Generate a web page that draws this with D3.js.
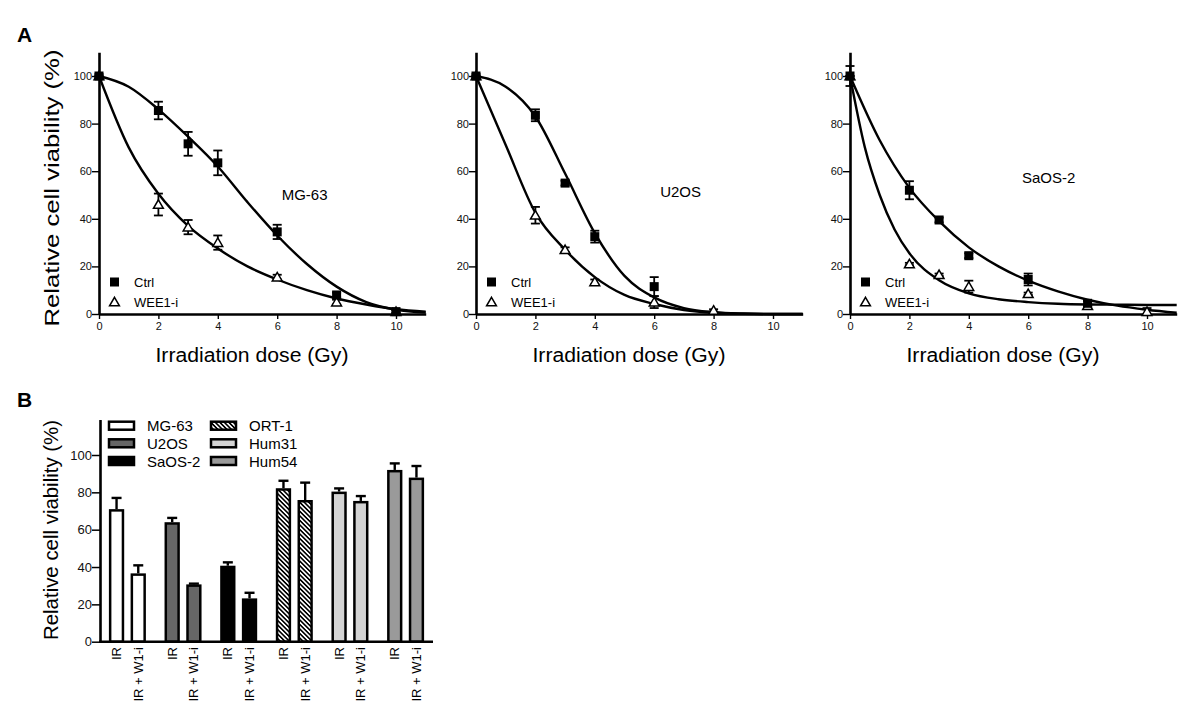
<!DOCTYPE html>
<html><head><meta charset="utf-8">
<script src="https://cdn.jsdelivr.net/npm/d3@7"></script>
<style>
body{margin:0;background:#fff;}
svg{display:block;font-family:"Liberation Sans",Arial,sans-serif;}
</style></head>
<body>
<svg id="c" width="1200" height="719"></svg>
<script>
// ---------- Panel A data ----------
const xTicksA = [0, 2, 4, 6, 8, 10];
const yTicksA = [0, 20, 40, 60, 80, 100];
const fitX = [0, 1, 2, 3, 4, 5, 6, 7, 8, 9, 10, 11];

// MG-63
const mgCtrlDose = [0, 2, 3, 4, 6, 8, 10];
const mgCtrl     = [100, 85.5, 71.5, 63.5, 34.5, 8, 1];
const mgCtrlErr  = [0.8, 3.7, 5, 5.2, 3, 1, 0.5];
const mgWeeDose  = [0, 2, 3, 4, 6, 8, 10];
const mgWee      = [100, 46, 36.5, 30, 15.5, 5, 1];
const mgWeeErr   = [0, 4.6, 3, 3, 1, 1, 0.5];
const mgCtrlFit  = [100, 95.5, 86, 74.5, 62, 47, 33, 21, 11.5, 5, 1.8, 0.6];
const mgWeeFit   = [100, 70, 50.5, 37, 27.5, 20, 14.5, 10, 6.5, 4, 2, 1];

// U2OS
const u2CtrlDose = [0, 2, 3, 4, 6];
const u2Ctrl     = [100, 83.5, 55, 32.5, 11.5];
const u2CtrlErr  = [0.8, 2.5, 1, 2.5, 4];
const u2WeeDose  = [0, 2, 3, 4, 6, 8];
const u2Wee      = [100, 41.5, 27, 13.5, 5, 1.5];
const u2WeeErr   = [0, 3.5, 1, 1, 2.5, 0.5];
const u2CtrlFit  = [100, 95.5, 83, 59, 34, 16, 7, 2.5, 0.8, 0.2, 0, 0];
const u2WeeFit   = [100, 71, 42.5, 27, 15.5, 8, 4.2, 1.7, 0.5, 0.1, 0, 0];

// SaOS-2
const saCtrlDose = [0, 2, 3, 4, 6, 8];
const saCtrl     = [100, 52, 39.5, 24.5, 14.5, 4.5];
const saCtrlErr  = [4.2, 3.8, 1, 1, 2.5, 1];
const saWeeDose  = [0, 2, 3, 4, 6, 8, 10];
const saWee      = [100, 21, 16.5, 11.5, 8.5, 3.5, 1];
const saWeeErr   = [0, 0.5, 0.5, 2.5, 0.5, 0.5, 1.5];
const saCtrlFit  = [100, 73, 53, 39, 28, 20, 14, 9.5, 6, 3.5, 1.8, 0.5];
const saWeeFitX  = [0, 0.5, 1, 1.5, 2, 3, 4, 5, 6, 7, 8, 9, 10, 11];
const saWeeFit   = [100, 70, 50, 35.5, 25.5, 14.2, 8.7, 6.2, 5, 4.3, 4, 3.9, 3.8, 3.8];

const panelNames = ["MG-63", "U2OS", "SaOS-2"];
const legendLabels = ["Ctrl", "WEE1-i"];

// ---------- Panel B data ----------
const bGroups = ["MG-63", "U2OS", "SaOS-2", "ORT-1", "Hum31", "Hum54"];
const bConds  = ["IR", "IR + W1-i"];
const bIR     = [71, 64, 40.7, 82.2, 80.4, 92];
const bIRErr  = [6, 2.3, 1.8, 4, 1.7, 3.5];
const bW1     = [36.6, 30.7, 23.2, 75.9, 75.4, 87.9];
const bW1Err  = [4.3, 0.4, 3, 9.3, 2.6, 6.2];
const yTicksB = [0, 20, 40, 60, 80, 100];

// ---------- drawing ----------
const svg = d3.select("#c");
const fills = ["#ffffff", "#666666", "#000000", "url(#hatch)", "#d4d4d4", "#9a9a9a"];

const defs = svg.append("defs");
const pat = defs.append("pattern").attr("id", "hatch")
  .attr("patternUnits", "userSpaceOnUse").attr("width", 3.2).attr("height", 3.2)
  .attr("patternTransform", "rotate(-45)");
pat.append("rect").attr("width", 3.2).attr("height", 3.2).attr("fill", "#fff");
pat.append("line").attr("x1", 0.8).attr("y1", 0).attr("x2", 0.8).attr("y2", 3.2)
  .attr("stroke", "#000").attr("stroke-width", 1.6);

// Panel labels
svg.append("text").attr("x", 17).attr("y", 42).attr("font-size", 21).attr("font-weight", "bold").text("A");
svg.append("text").attr("x", 17).attr("y", 407).attr("font-size", 21).attr("font-weight", "bold").text("B");

const panels = [
  {x0: 99, name: panelNames[0], lab: [6.15, 48],
   ctrl: [mgCtrlDose, mgCtrl, mgCtrlErr], wee: [mgWeeDose, mgWee, mgWeeErr],
   fits: [[fitX, mgCtrlFit], [fitX, mgWeeFit]], yTitle: true},
  {x0: 476, name: panelNames[1], lab: [6.2, 49],
   ctrl: [u2CtrlDose, u2Ctrl, u2CtrlErr], wee: [u2WeeDose, u2Wee, u2WeeErr],
   fits: [[fitX, u2CtrlFit], [fitX, u2WeeFit]], yTitle: false},
  {x0: 850, name: panelNames[2], lab: [5.79, 55],
   ctrl: [saCtrlDose, saCtrl, saCtrlErr], wee: [saWeeDose, saWee, saWeeErr],
   fits: [[fitX, saCtrlFit], [saWeeFitX, saWeeFit]], yTitle: false}
];

panels.forEach(p => {
  const x = d3.scaleLinear().domain([0, 11]).range([p.x0, p.x0 + 11 * 29.7]);
  const y = d3.scaleLinear().domain([0, 110]).range([314, 314 - 110 * 2.38]);
  const g = svg.append("g");

  // axes
  const ya = g.append("g").attr("transform", `translate(${p.x0},0)`)
    .call(d3.axisLeft(y).tickValues(yTicksA).tickSize(7).tickSizeOuter(0).tickPadding(0));
  const xa = g.append("g").attr("transform", "translate(0,314)")
    .call(d3.axisBottom(x).tickValues(xTicksA).tickSize(5).tickSizeOuter(0).tickPadding(3));
  [ya, xa].forEach(a => {
    a.select(".domain").attr("stroke-width", 2.6);
    a.selectAll(".tick line").attr("stroke-width", 1.4);
    a.selectAll("text").attr("font-size", 11).attr("font-family", "Liberation Sans, Arial, sans-serif").attr("fill", "#111");
  });

  // titles
  g.append("text").attr("x", x(5.15)).attr("y", 362).attr("text-anchor", "middle")
    .attr("font-size", 20).attr("textLength", 193).attr("lengthAdjust", "spacingAndGlyphs")
    .text("Irradiation dose (Gy)");
  if (p.yTitle) {
    g.append("text").attr("transform", `translate(59,${188}) rotate(-90)`)
      .attr("text-anchor", "middle").attr("font-size", 20)
      .attr("textLength", 277).attr("lengthAdjust", "spacingAndGlyphs")
      .text("Relative cell viability (%)");
  }
  g.append("text").attr("x", x(p.lab[0])).attr("y", y(p.lab[1])).attr("font-size", 15).text(p.name);

  // fit curves
  const line = d3.line().x(d => x(d[0])).y(d => y(d[1])).curve(d3.curveMonotoneX);
  p.fits.forEach(f => {
    g.append("path").datum(d3.zip(f[0], f[1])).attr("d", line)
      .attr("fill", "none").attr("stroke", "#000").attr("stroke-width", 2.4);
  });

  // error bars
  [p.wee, p.ctrl].forEach(s => {
    const data = d3.zip(s[0], s[1], s[2]);
    data.forEach(d => {
      const cx = x(d[0]), t = y(d[1] + d[2]), b = y(d[1] - d[2]);
      g.append("line").attr("x1", cx).attr("x2", cx).attr("y1", t).attr("y2", b).attr("stroke", "#000").attr("stroke-width", 1.8);
      g.append("line").attr("x1", cx - 4.5).attr("x2", cx + 4.5).attr("y1", t).attr("y2", t).attr("stroke", "#000").attr("stroke-width", 1.8);
      g.append("line").attr("x1", cx - 4.5).attr("x2", cx + 4.5).attr("y1", b).attr("y2", b).attr("stroke", "#000").attr("stroke-width", 1.8);
    });
  });

  const tri = d3.symbol().type(d3.symbolTriangle).size(42);
  // WEE1-i triangles
  d3.zip(p.wee[0], p.wee[1]).forEach(d => {
    g.append("path").attr("d", tri).attr("transform", `translate(${x(d[0])},${y(d[1]) + 1})`)
      .attr("fill", "#fff").attr("stroke", "#000").attr("stroke-width", 1.5);
  });
  // Ctrl squares
  d3.zip(p.ctrl[0], p.ctrl[1]).forEach(d => {
    g.append("rect").attr("x", x(d[0]) - 4.5).attr("y", y(d[1]) - 4.5).attr("width", 9).attr("height", 9).attr("fill", "#000");
  });

  // legend
  const lx = p.x0 + 15.5, tx = p.x0 + 35;
  g.append("rect").attr("x", lx - 4.5).attr("y", 282 - 4.5).attr("width", 9).attr("height", 9).attr("fill", "#000");
  g.append("path").attr("d", tri).attr("transform", `translate(${lx},${303})`)
    .attr("fill", "#fff").attr("stroke", "#000").attr("stroke-width", 1.5);
  g.append("text").attr("x", tx).attr("y", 286.5).attr("font-size", 13).text(legendLabels[0]);
  g.append("text").attr("x", tx).attr("y", 307).attr("font-size", 13).text(legendLabels[1]);
});

// ---------- Panel B ----------
{
  const yB = d3.scaleLinear().domain([0, 119]).range([641.7, 641.7 - 119 * 1.867]);
  const x0 = d3.scaleBand().domain(bGroups).range([100, 433]).paddingInner(0.335).paddingOuter(0.16);
  const x1 = d3.scaleBand().domain(bConds).range([0, x0.bandwidth()]).paddingInner(0.295).paddingOuter(0);
  const g = svg.append("g");

  const rows = [];
  bGroups.forEach((grp, i) => {
    rows.push({grp, i, cond: bConds[0], v: bIR[i], e: bIRErr[i]});
    rows.push({grp, i, cond: bConds[1], v: bW1[i], e: bW1Err[i]});
  });

  rows.forEach(r => {
    const bx = x0(r.grp) + x1(r.cond);
    const bw = x1.bandwidth();
    const cx = bx + bw / 2;
    // error bar (upper)
    g.append("line").attr("x1", cx).attr("x2", cx).attr("y1", yB(r.v)).attr("y2", yB(r.v + r.e))
      .attr("stroke", "#000").attr("stroke-width", 2.4);
    g.append("line").attr("x1", cx - 5).attr("x2", cx + 5).attr("y1", yB(r.v + r.e)).attr("y2", yB(r.v + r.e))
      .attr("stroke", "#000").attr("stroke-width", 2.4);
    g.append("rect").attr("x", bx + 1.25).attr("y", yB(r.v) + 1.25)
      .attr("width", bw - 2.5).attr("height", yB(0) - yB(r.v) - 1.25)
      .attr("fill", fills[r.i]).attr("stroke", "#000").attr("stroke-width", 2.5);
    // x labels
    g.append("text").attr("transform", `translate(${cx + 4.5},${647}) rotate(-90)`)
      .attr("text-anchor", "end").attr("font-size", 13).text(r.cond);
  });

  const ya = g.append("g").attr("transform", "translate(100,0)")
    .call(d3.axisLeft(yB).tickValues(yTicksB).tickSize(8).tickSizeOuter(0).tickPadding(0));
  ya.select(".domain").attr("stroke-width", 2.6);
  ya.selectAll(".tick line").attr("stroke-width", 1.5);
  ya.selectAll("text").attr("font-size", 13).attr("font-family", "Liberation Sans, Arial, sans-serif").attr("fill", "#111");
  g.append("line").attr("x1", 99).attr("x2", 433).attr("y1", yB(0)).attr("y2", yB(0))
    .attr("stroke", "#000").attr("stroke-width", 2.6);

  g.append("text").attr("transform", `translate(58,530) rotate(-90)`)
    .attr("text-anchor", "middle").attr("font-size", 20).attr("textLength", 220).attr("lengthAdjust", "spacingAndGlyphs")
    .text("Relative cell viability (%)");

  // legend
  const legX = [109, 211];
  const legY = [425.7, 443.3, 461];
  bGroups.forEach((grp, i) => {
    const col = Math.floor(i / 3), row = i % 3;
    g.append("rect").attr("x", legX[col]).attr("y", legY[row] - 4).attr("width", 25).attr("height", 8)
      .attr("fill", fills[i]).attr("stroke", "#000").attr("stroke-width", 2.5);
    g.append("text").attr("x", legX[col] + 38).attr("y", legY[row] + 5.5).attr("font-size", 15).text(grp);
  });
}
</script>
</body></html>
